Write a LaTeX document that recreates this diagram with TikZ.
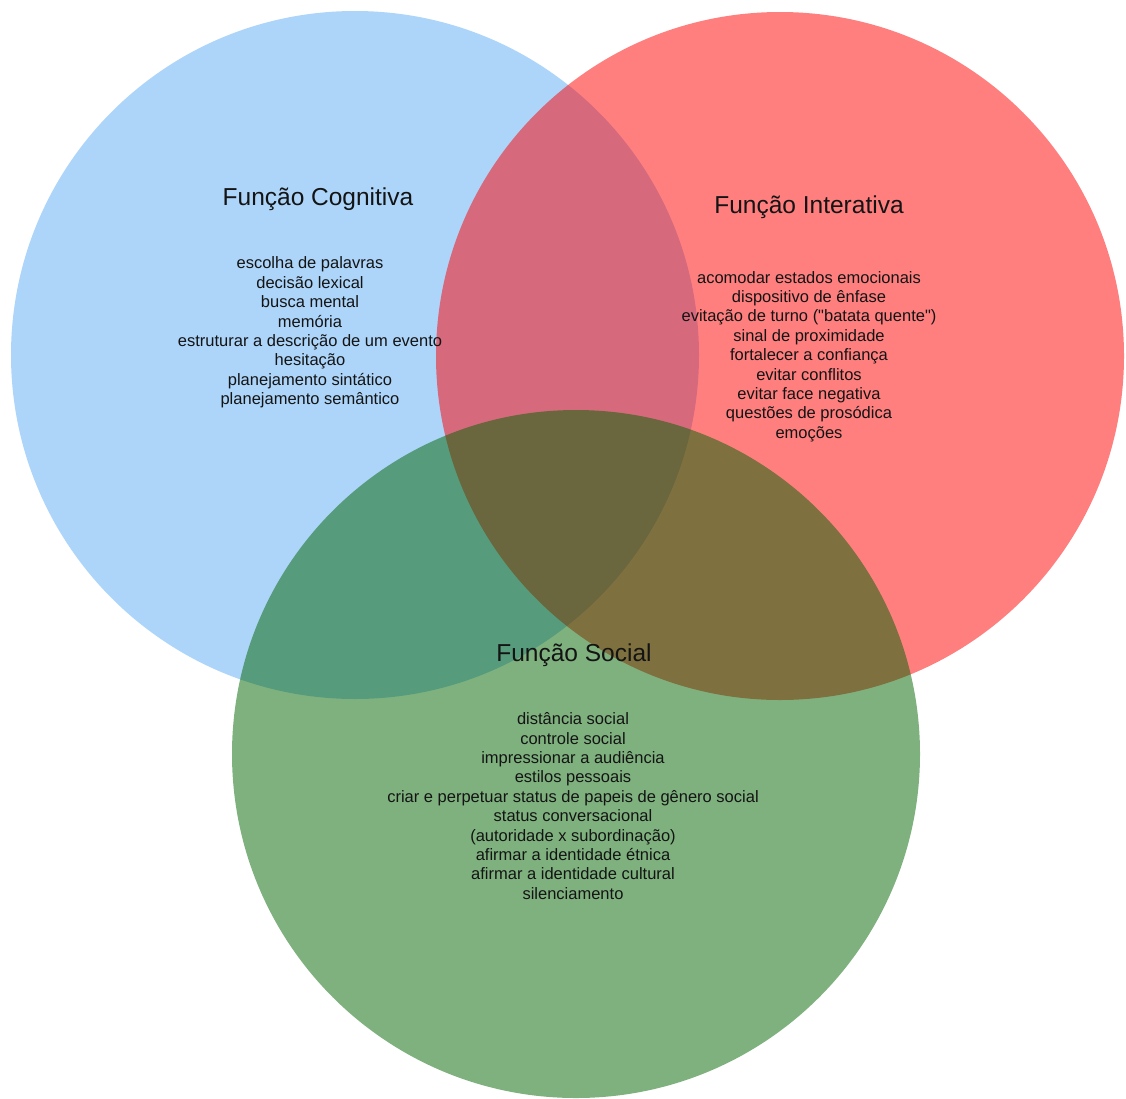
\documentclass[tikz,border=0pt]{standalone}
\usepackage{fontspec}
\setmainfont{Liberation Sans}[Ligatures=TeXOff]
\definecolor{cblue}{RGB}{91,171,245}
\definecolor{cred}{RGB}{255,0,0}
\definecolor{cgreen}{RGB}{0,100,0}
\definecolor{ink}{RGB}{20,20,20}
\begin{document}
\begin{tikzpicture}[x=1pt,y=-1pt,
  venn/.style={circle, draw=none, fill opacity=0.5, minimum size=688pt, inner sep=0pt},
  title/.style={font=\fontsize{24.5}{29}\selectfont, text=ink, inner sep=0pt},
  items/.style={font=\fontsize{16.5}{19.4}\selectfont, align=center, text=ink, inner sep=0pt}]
\useasboundingbox (0,0) rectangle (1126,1098);
\node[venn, fill=cblue]  (cog) at (355,355) {};
\node[venn, fill=cred]   (int) at (780,356) {};
\node[venn, fill=cgreen] (soc) at (576,754) {};

\node[title] (tcog) at (318,199) {Função Cognitiva};
\node[items] (icog) at (310,332.5) {escolha de palavras\\decisão lexical\\busca mental\\memória\\estruturar a descrição de um evento\\hesitação\\planejamento sintático\\planejamento semântico};

\node[title] (tint) at (809,207) {Função Interativa};
\node[items] (iint) at (809,356.5) {acomodar estados emocionais\\dispositivo de ênfase\\evitação de turno ("batata quente")\\sinal de proximidade\\fortalecer a confiança\\evitar conflitos\\evitar face negativa\\questões de prosódica\\emoções};

\node[title] (tsoc) at (574,655) {Função Social};
\node[items] (isoc) at (573,806) {distância social\\controle social\\impressionar a audiência\\estilos pessoais\\criar e perpetuar status de papeis de gênero social\\status conversacional\\(autoridade x subordinação)\\afirmar a identidade étnica\\afirmar a identidade cultural\\silenciamento};
\end{tikzpicture}
\end{document}
